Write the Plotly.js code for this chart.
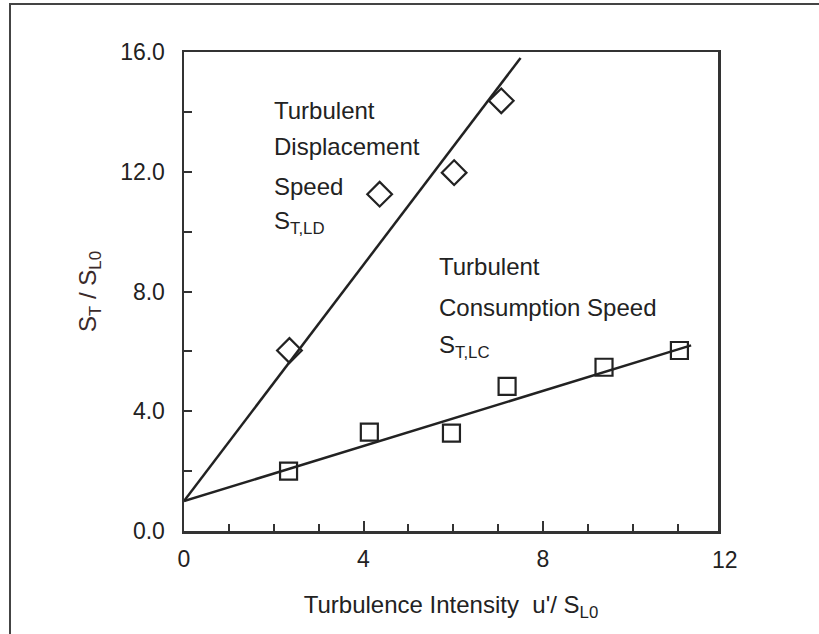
<!DOCTYPE html>
<html>
<head>
<meta charset="utf-8">
<script src="https://cdn.plot.ly/plotly-3.0.1.min.js"></script>
<style>
  html, body { margin: 0; padding: 0; background: #fff; }
  #frame { position: absolute; left: 9px; top: 3px; width: 830px; height: 660px;
           border-left: 2px solid #444; border-top: 2px solid #444; }
  #chart { position: absolute; left: 0; top: 0; width: 819px; height: 634px; }
</style>
</head>
<body>
<div id="frame"></div>
<div id="chart"></div>
<script>
// Turbulent displacement speed S_T,LD / S_L0 (diamonds)
const ldIntensity = [2.35, 4.36, 6.02, 7.07];
const ldSpeed     = [6.03, 11.25, 11.97, 14.37];
// Turbulent consumption speed S_T,LC / S_L0 (squares)
const lcIntensity = [2.33, 4.13, 5.96, 7.2, 9.36, 11.04];
const lcSpeed     = [2.0, 3.3, 3.27, 4.83, 5.47, 6.03];
// Fitted lines through (0, 1)
const ldFitX = [0, 7.5];
const ldFitY = [1, 15.8];
const lcFitX = [0, 11.3];
const lcFitY = [1, 6.2];

// Axis ticks
const xTicks = [0, 4, 8];
const xTickText = ['0', '4', '8'];
const yTicks = [0, 4, 8, 12, 16];
const yTickText = ['0.0', '4.0', '8.0', '12.0', '16.0'];

// In-plot labels, one entry per text line
const ldLabelLines = ['Turbulent', 'Displacement', 'Speed', 'S<sub>T,LD</sub>'];
const ldLabelY = [14.06, 12.83, 11.52, 10.32];
const lcLabelLines = ['Turbulent', 'Consumption Speed', 'S<sub>T,LC</sub>'];
const lcLabelY = [8.82, 7.45, 6.15];

const FONT = 'Liberation Sans, Arial, sans-serif';
const INK = '#222';
const X_MAX = 11.9;

const traces = [
  { x: ldFitX, y: ldFitY, mode: 'lines', line: { color: '#222', width: 2.5 },
    hoverinfo: 'skip', showlegend: false },
  { x: lcFitX, y: lcFitY, mode: 'lines', line: { color: '#222', width: 2.5 },
    hoverinfo: 'skip', showlegend: false },
  { x: ldIntensity, y: ldSpeed, mode: 'markers', showlegend: false,
    marker: { symbol: 'diamond-open', size: 19, color: '#222', line: { width: 2.2, color: '#222' } } },
  { x: lcIntensity, y: lcSpeed, mode: 'markers', showlegend: false,
    marker: { symbol: 'square-open', size: 17, color: '#222', line: { width: 2.2, color: '#222' } } }
];

const annotations = [];
ldLabelLines.forEach((t, i) => annotations.push({
  x: 1.96, y: ldLabelY[i], xref: 'x', yref: 'y', text: t, showarrow: false,
  xanchor: 'left', yanchor: 'middle', font: { family: FONT, size: 24, color: INK }
}));
lcLabelLines.forEach((t, i) => annotations.push({
  x: 5.63, y: lcLabelY[i], xref: 'x', yref: 'y', text: t, showarrow: false,
  xanchor: 'left', yanchor: 'middle', font: { family: FONT, size: 24, color: INK }
}));
// last x tick label sits just past the frame edge
annotations.push({
  x: 12 / X_MAX, y: 0, xref: 'paper', yref: 'paper', text: '12', showarrow: false,
  xanchor: 'center', yanchor: 'top', yshift: -14, xshift: 3,
  font: { family: FONT, size: 23, color: INK }
});

const layout = {
  width: 819, height: 634,
  margin: { l: 184, r: 101, t: 52, b: 103 },
  paper_bgcolor: 'rgba(0,0,0,0)', plot_bgcolor: '#fff',
  font: { family: FONT, size: 23, color: INK },
  xaxis: {
    range: [0, X_MAX], tickmode: 'array', tickvals: xTicks, ticktext: xTickText,
    ticks: 'inside', ticklen: 10, tickwidth: 2, tickcolor: '#333',
    minor: { dtick: 1, tick0: 0, ticks: 'inside', ticklen: 7, tickwidth: 2, tickcolor: '#333' },
    showline: true, linecolor: '#333', linewidth: 2.5, mirror: true,
    showgrid: false, zeroline: false, ticklabelstandoff: 6,
    tickfont: { family: FONT, size: 23, color: INK },
    title: { text: "Turbulence Intensity  u'/ S<sub>L0</sub>", standoff: 25,
             font: { family: FONT, size: 24, color: INK } },
    automargin: false
  },
  yaxis: {
    range: [0, 16], tickmode: 'array', tickvals: yTicks, ticktext: yTickText,
    ticks: 'inside', ticklen: 8, tickwidth: 2, tickcolor: '#333',
    minor: { dtick: 2, tick0: 0, ticks: 'inside', ticklen: 8, tickwidth: 2, tickcolor: '#333' },
    showline: true, linecolor: '#333', linewidth: 2.5, mirror: true,
    showgrid: false, zeroline: false, ticklabelstandoff: 12,
    tickfont: { family: FONT, size: 23, color: INK },
    title: { text: 'S<sub>T</sub> / S<sub>L0</sub>', standoff: 17,
             font: { family: FONT, size: 24, color: '#3a2a2a' } },
    automargin: false
  },
  annotations: annotations
};

Plotly.newPlot('chart', traces, layout, { displayModeBar: false, staticPlot: true });
</script>
</body>
</html>
